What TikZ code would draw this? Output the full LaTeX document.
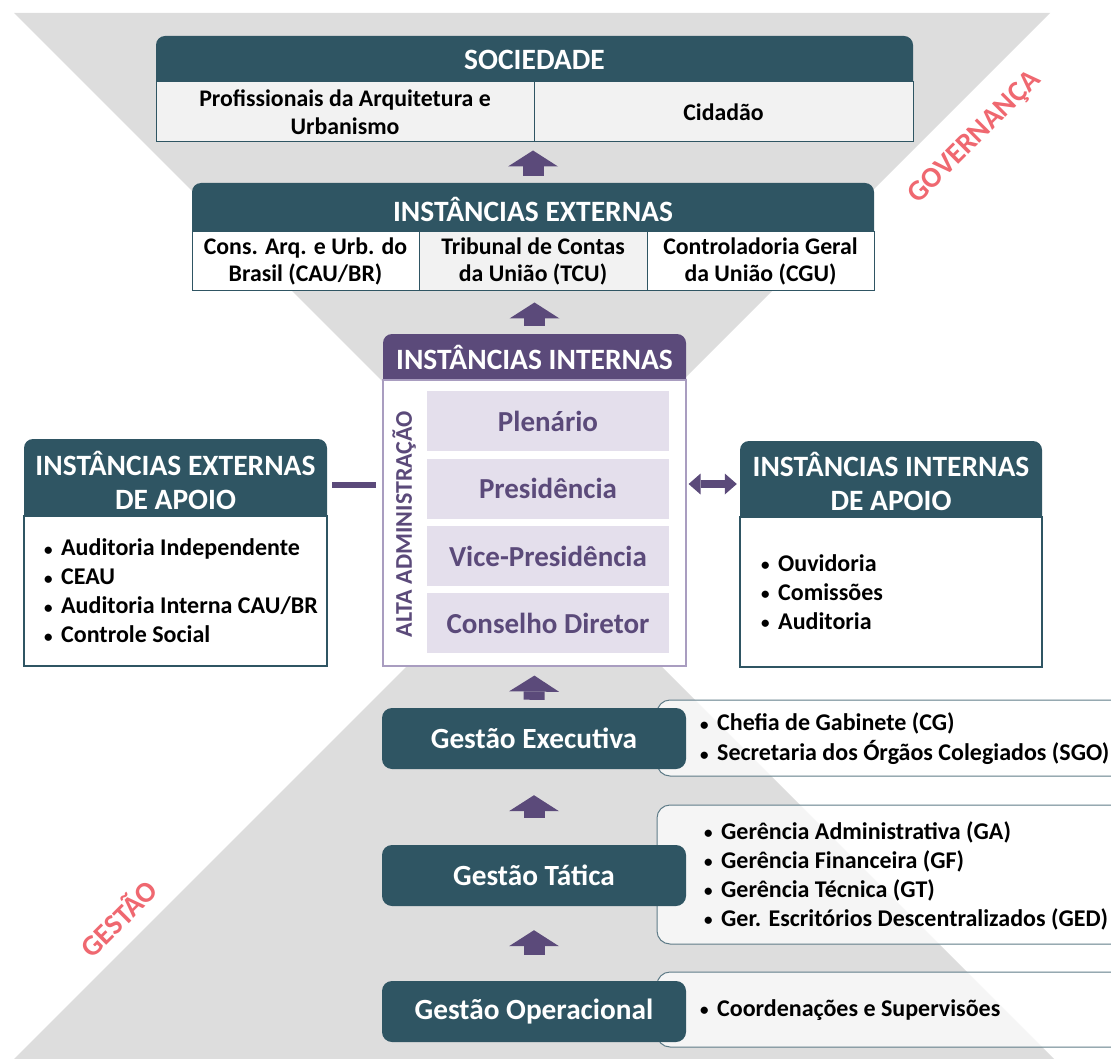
\documentclass[tikz,border=0pt]{standalone}
\usepackage{fontspec}
\setmainfont{Carlito}
\usetikzlibrary{arrows.meta}
\definecolor{tealC}{HTML}{2F5563}
\definecolor{purpC}{HTML}{5B4A7A}
\definecolor{lpurp}{HTML}{E4DFEC}
\definecolor{bpurp}{HTML}{A99DC0}
\definecolor{bgG}{HTML}{DDDDDD}
\definecolor{cellG}{HTML}{F2F2F2}
\definecolor{redC}{HTML}{EF6870}
\definecolor{detB}{HTML}{5F7C88}
\newcommand{\bl}[1]{\makebox[17pt][l]{\raisebox{0.5pt}{\fontsize{17}{17}\selectfont\textbullet}}#1}
\begin{document}
\begin{tikzpicture}[x=1pt,y=-1pt,
  hdrbox/.style={fill=#1, rounded corners=9pt, inner sep=0pt},
  hdrtxt/.style={text=white, font=\fontsize{29.5}{34}\selectfont\bfseries, align=center, inner sep=0pt},
  cell/.style={draw=tealC, line width=1pt, font=\fontsize{23.8}{27.5}\selectfont\bfseries, align=center, inner sep=0pt},
  bodybox/.style={fill=white, draw=#1, line width=1.2pt, inner sep=0pt},
  inner/.style={fill=lpurp, text=purpC, font=\fontsize{29}{32}\selectfont\bfseries, minimum width=242pt, minimum height=60pt, inner sep=0pt},
  gbox/.style={fill=tealC, rounded corners=10pt, text=white, font=\fontsize{29.3}{32}\selectfont\bfseries, minimum width=304pt, minimum height=61pt, inner sep=0pt},
  detail/.style={fill=white, fill opacity=0.72, draw=detB, line width=1pt, rounded corners=13pt, inner sep=0pt},
  blist/.style={font=\fontsize{24}{29}\selectfont\bfseries, align=left, anchor=west, inner sep=0pt},
  blockarr/.style={draw=purpC, line width=21pt, -{Triangle[width=50pt,length=16pt,line width=0pt]}},
  conn/.style={draw=purpC, line width=6pt},
  dblarr/.style={draw=purpC, line width=8pt, {Triangle[width=21pt,length=12pt,line width=0pt]}-{Triangle[width=21pt,length=12pt,line width=0pt]}},
  side/.style={text=redC, font=\fontsize{29}{34}\selectfont\bfseries, rotate=45, inner sep=0pt}
]
\path[use as bounding box] (0,0) rectangle (1111,1059);
\clip (0,0) rectangle (1111,1059);

% hourglass background
\fill[bgG] (14,13) -- (1050,13) -- (532,531) -- cycle;
\fill[bgG] (14,1059) -- (1054,1059) -- (534,539) -- cycle;

% SOCIEDADE
\node[hdrbox=tealC, minimum width=757pt, minimum height=56pt] (socH) at (534.5,64) {};
\node[cell, fill=cellG, minimum width=378pt, minimum height=60pt] (soc1) at (345,112) {Profissionais da Arquitetura e\\Urbanismo};
\node[cell, fill=cellG, minimum width=379pt, minimum height=60pt] (soc2) at (723.5,112) {Cidadão};
\node[hdrtxt] (socT) at (534.5,60) {SOCIEDADE};

% INSTANCIAS EXTERNAS
\node[hdrbox=tealC, minimum width=682pt, minimum height=59pt] (extH) at (533,212.5) {};
\node[cell, fill=white, minimum width=227pt, minimum height=59pt] (ext1) at (305.5,261.5) {Cons. Arq. e Urb. do\\Brasil (CAU/BR)};
\node[cell, fill=cellG, minimum width=228pt, minimum height=59pt] (ext2) at (533,261.5) {Tribunal de Contas\\da União (TCU)};
\node[cell, fill=white, minimum width=227pt, minimum height=59pt] (ext3) at (760.5,261.5) {Controladoria Geral\\da União (CGU)};
\node[hdrtxt] (extT) at (533,209) {INSTÂNCIAS EXTERNAS};

% INSTANCIAS INTERNAS
\node[hdrbox=purpC, minimum width=303pt, minimum height=56pt] (intH) at (534.5,362) {};
\node[bodybox=bpurp, minimum width=303pt, minimum height=286pt] (intB) at (534.5,523) {};
\node[hdrtxt] (intT) at (534.5,357) {INSTÂNCIAS INTERNAS};
\node[inner] (ple) at (548,421) {Plenário};
\node[inner] (pre) at (548,488.5) {Presidência};
\node[inner] (vic) at (548,556) {Vice-Presidência};
\node[inner] (con) at (548,623) {Conselho Diretor};
\node[text=purpC, font=\fontsize{24}{28}\selectfont\bfseries, rotate=90, inner sep=0pt] (alta) at (404,524) {ALTA ADMINISTRAÇÃO};

% left box
\node[hdrbox=tealC, minimum width=303pt, minimum height=87pt] (lH) at (175.5,482.5) {};
\node[bodybox=tealC, minimum width=303pt, minimum height=150pt] (lB) at (175.5,591) {};
\node[hdrtxt] (lT) at (175.5,480) {INSTÂNCIAS EXTERNAS\\DE APOIO};
\node[blist] (lL) at (44,591) {\bl{Auditoria Independente}\\\bl{CEAU}\\\bl{Auditoria Interna CAU/BR}\\\bl{Controle Social}};

% right box
\node[hdrbox=tealC, minimum width=302pt, minimum height=86pt] (rH) at (891,484) {};
\node[bodybox=tealC, minimum width=302pt, minimum height=150pt] (rB) at (891,592) {};
\node[hdrtxt] (rT) at (891,481) {INSTÂNCIAS INTERNAS\\DE APOIO};
\node[blist] (rL) at (761,592) {\bl{Ouvidoria}\\\bl{Comissões}\\\bl{Auditoria}};

% detail boxes
\node[detail, minimum width=468pt, minimum height=76pt] (dE) at (891,738) {};
\node[detail, minimum width=468pt, minimum height=139pt] (dT) at (891,874.5) {};
\node[detail, minimum width=468pt, minimum height=75pt] (dO) at (891,1009.5) {};
\node[blist] (dEL) at (700,739) {\bl{Chefia de Gabinete (CG)}\\[1pt]\bl{Secretaria dos Órgãos Colegiados (SGO)}};
\node[blist] (dTL) at (704,875.5) {\bl{Gerência Administrativa (GA)}\\\bl{Gerência Financeira (GF)}\\\bl{Gerência Técnica (GT)}\\\bl{Ger. Escritórios Descentralizados (GED)}};
\node[blist] (dOL) at (700,1010) {\bl{Coordenações e Supervisões}};

% gestao boxes
\node[gbox] (gE) at (534,738.5) {Gestão Executiva};
\node[gbox] (gT) at (534,875.5) {Gestão Tática};
\node[gbox] (gO) at (534,1011.5) {Gestão Operacional};

% connectors
\draw[blockarr, shorten <=7pt, shorten >=8pt] (extH.north) -- (extH.north |- soc1.south);
\draw[blockarr, shorten <=8pt, shorten >=11pt] (intH.north) -- (intH.north |- ext2.south);
\draw[blockarr, shorten <=8pt, shorten >=9pt] (gE.north) -- (intB.south);
\draw[blockarr, shorten <=27pt, shorten >=26pt] (gT.north) -- (gE.south);
\draw[blockarr, shorten <=26pt, shorten >=24pt] (gO.north) -- (gT.south);
\draw[conn, shorten <=5pt, shorten >=6pt] ([yshift=-2.5pt]lH.east) -- ([yshift=-2.5pt]lH.east -| intB.west);
\draw[dblarr, shorten <=2pt, shorten >=3pt] (rH.west -| intB.east) -- (rH.west);

% side labels
\node[side] (gov) at (975,138) {GOVERNANÇA};
\node[side] (ges) at (118,918) {GESTÃO};
\end{tikzpicture}
\end{document}
